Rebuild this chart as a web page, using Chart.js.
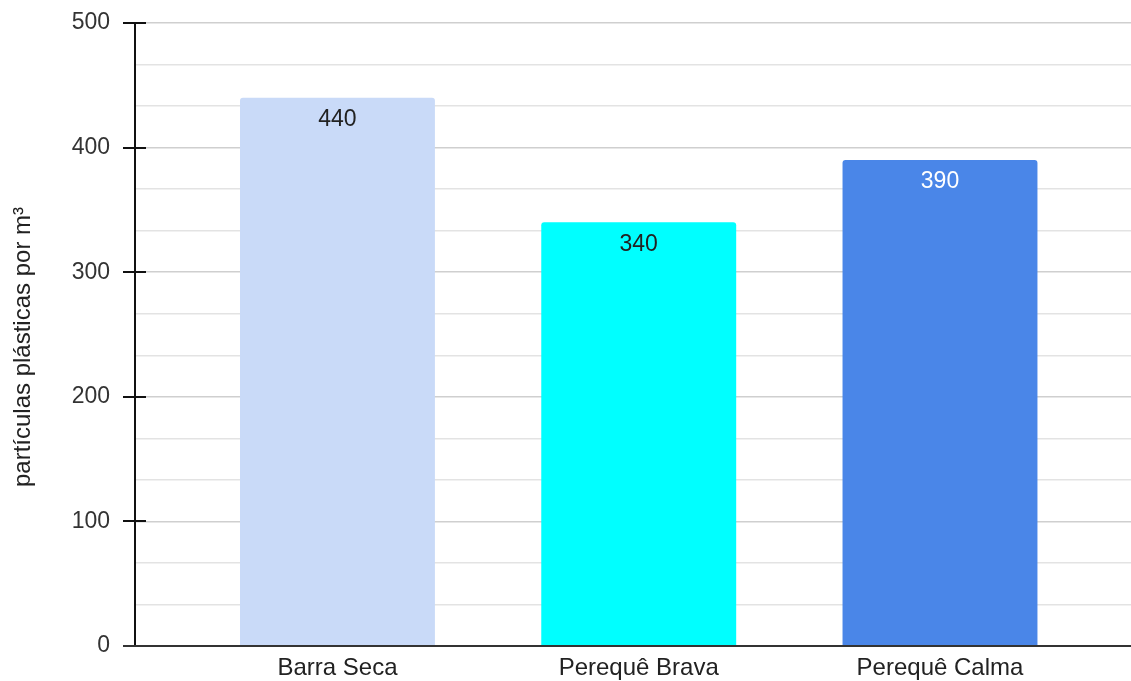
<!DOCTYPE html>
<html>
<head>
<meta charset="utf-8">
<script src="https://cdn.jsdelivr.net/npm/chart.js@4.4.1/dist/chart.umd.min.js"></script>
<style>
  html, body { margin: 0; padding: 0; background: #fff; }
  #wrap { width: 1131px; height: 681px; position: relative; }
</style>
</head>
<body>
<div id="wrap"><canvas id="c"></canvas></div>
<script>
// Sampling sites and plastic particle concentration
const categories = ['Barra Seca', 'Perequê Brava', 'Perequê Calma'];
const values = [440, 340, 390];
const yMajorTicks = [0, 100, 200, 300, 400, 500];
const yAxisTitle = 'partículas plásticas por m³';

const barColors = ['#c9daf8', '#00ffff', '#4a86e8'];
const labelColors = ['#222222', '#222222', '#ffffff'];
const FONT = '"Liberation Sans", Arial, sans-serif';
const MINOR_STEPS = 3;

function isMajor(v) {
  return yMajorTicks.some(m => Math.abs(m - v) < 1e-6);
}

// Axis line, tick marks, baseline, value labels and the rotated axis title
const decorations = {
  id: 'decorations',
  afterDatasetsDraw(chart) {
    const { ctx, chartArea, scales } = chart;
    const y = scales.y;
    ctx.save();
    // vertical axis line
    ctx.strokeStyle = '#111';
    ctx.lineWidth = 2;
    ctx.beginPath();
    ctx.moveTo(chartArea.left, chartArea.top);
    ctx.lineTo(chartArea.left, chartArea.bottom);
    ctx.stroke();
    // major tick marks crossing the axis
    yMajorTicks.forEach(v => {
      const py = Math.round(y.getPixelForValue(v));
      ctx.beginPath();
      ctx.moveTo(chartArea.left - 12, py);
      ctx.lineTo(chartArea.left + 11, py);
      ctx.stroke();
    });
    // baseline
    ctx.strokeStyle = '#333';
    ctx.beginPath();
    const by = Math.round(y.getPixelForValue(0));
    ctx.moveTo(chartArea.left - 12, by);
    ctx.lineTo(chartArea.right, by);
    ctx.stroke();

    // value labels inside the top of each bar
    const meta = chart.getDatasetMeta(0);
    ctx.font = '23px ' + FONT;
    ctx.textAlign = 'center';
    ctx.textBaseline = 'middle';
    meta.data.forEach((bar, i) => {
      ctx.fillStyle = labelColors[i];
      ctx.fillText(String(values[i]), bar.x, bar.y + 22);
    });

    // rotated y axis title
    ctx.translate(23, 347);
    ctx.rotate(-Math.PI / 2);
    ctx.fillStyle = '#222';
    ctx.font = '24px ' + FONT;
    ctx.fillText(yAxisTitle, 0, 0);
    ctx.restore();
  }
};

new Chart(document.getElementById('c'), {
  type: 'bar',
  data: {
    datasets: [{
      data: values.map((v, i) => ({ x: i, y: v })),
      backgroundColor: barColors,
      borderWidth: 0,
      borderRadius: { topLeft: 3, topRight: 3, bottomLeft: 0, bottomRight: 0 },
      borderSkipped: 'bottom',
      barPercentage: 0.647,
      categoryPercentage: 1
    }]
  },
  options: {
    responsive: true,
    maintainAspectRatio: false,
    devicePixelRatio: 1,
    animation: false,
    layout: { padding: { top: 23, right: 0, left: 0, bottom: 0 } },
    plugins: {
      legend: { display: false },
      tooltip: { enabled: false },
      title: { display: false }
    },
    scales: {
      x: {
        type: 'linear',
        offset: false,
        min: -0.672,
        max: 2.634,
        grid: { display: false, drawTicks: false, offset: false },
        border: { display: false },
        afterBuildTicks(scale) {
          scale.ticks = categories.map((_, i) => ({ value: i }));
        },
        afterFit(scale) {
          scale.height = 35;
          scale.paddingLeft = 0;
          scale.paddingRight = 0;
        },
        ticks: {
          autoSkip: false,
          maxRotation: 0,
          padding: 8,
          color: '#222',
          font: { family: FONT, size: 24 },
          callback: v => categories[v]
        }
      },
      y: {
        min: 0,
        max: 500,
        afterBuildTicks(scale) {
          const t = [];
          const step = (yMajorTicks[1] - yMajorTicks[0]) / MINOR_STEPS;
          const last = yMajorTicks[yMajorTicks.length - 1];
          for (let k = 0; k * step <= last + 1e-6; k++) t.push({ value: k * step });
          scale.ticks = t;
        },
        afterFit(scale) {
          scale.width = 135;
          scale.paddingTop = 0;
          scale.paddingBottom = 0;
        },
        grid: {
          drawTicks: false,
          lineWidth: 1.5,
          color: c => isMajor(c.tick.value) ? '#cfcfcf' : '#e3e3e3'
        },
        border: { display: false },
        ticks: {
          autoSkip: false,
          padding: 25,
          color: '#333',
          font: { family: FONT, size: 23 },
          callback: v => isMajor(v) ? String(Math.round(v)) : ''
        }
      }
    }
  },
  plugins: [decorations]
});
</script>
</body>
</html>
